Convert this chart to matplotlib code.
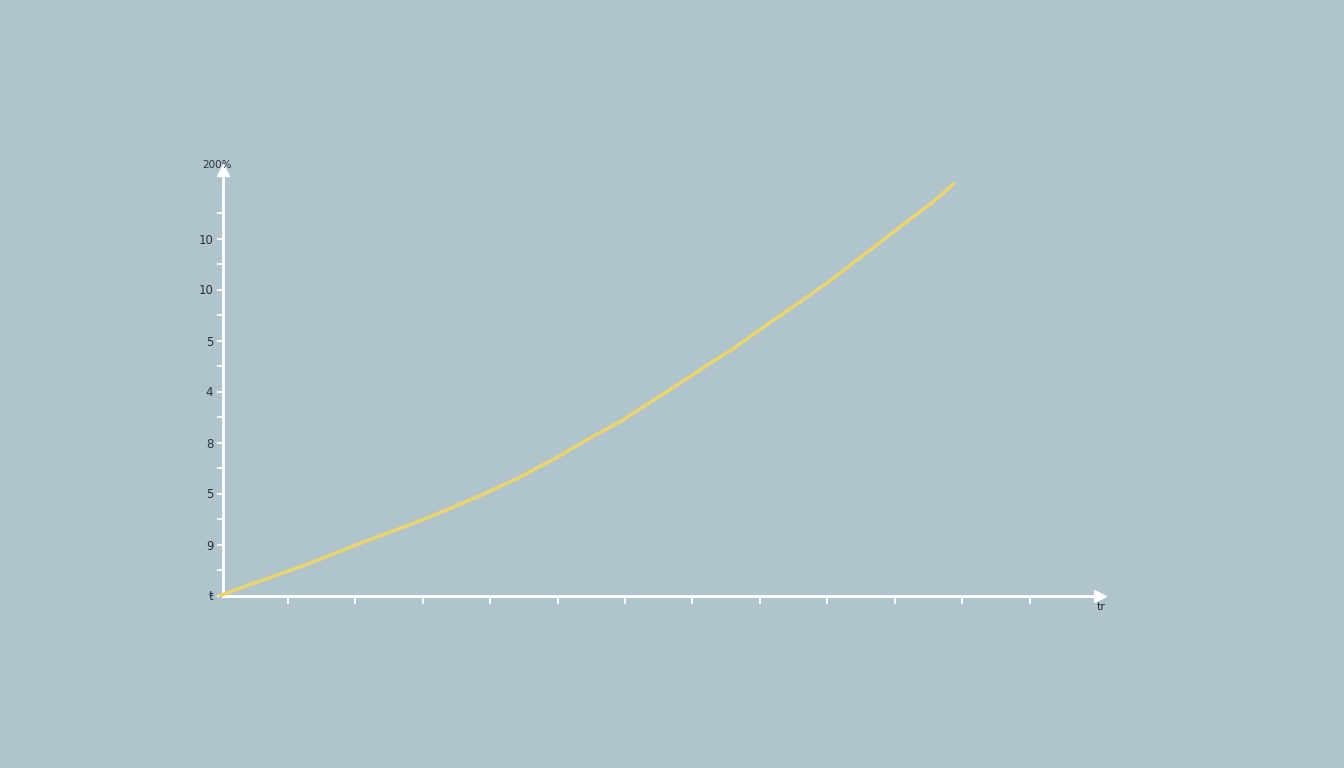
import numpy as np
import matplotlib
matplotlib.use("Agg")
import matplotlib.pyplot as plt

# values
x_vals = [0, 0.49, 0.98, 1.48, 1.97, 2.47, 2.96, 3.45, 3.95, 4.44, 4.94, 5.43, 5.97,
          6.12, 6.62, 7.11, 7.61, 8.10, 8.60, 9.09, 9.58, 10.08, 10.57, 10.87]
y_vals = [0, 0.48, 0.93, 1.42, 1.94, 2.44, 2.93, 3.46, 4.03, 4.64, 5.34, 6.10, 6.88,
          7.15, 7.99, 8.84, 9.69, 10.61, 11.52, 12.44, 13.44, 14.46, 15.44, 16.14]
x_ticks = list(range(1, 13))
y_ticks = list(range(0, 16))
y_label_pos = [0, 2, 4, 6, 8, 10, 12, 14]
y_labels = ["ŧ", "9", "5", "8", "4", "5", "10", "10"]
top_label = "200%"
x_end_label = "tr"

bg = "#B0C4CD"
line_color = "#E9D46E"
text_color = "#2B3138"

W, H = 1344, 768
fig = plt.figure(figsize=(W / 100, H / 100), dpi=100)
fig.patch.set_facecolor(bg)

# axes box in pixels
left, right, bottom, top = 223, 1100, 595.5, 170
ax = fig.add_axes([left / W, 1 - bottom / H, (right - left) / W, (bottom - top) / H])
ax.set_facecolor(bg)

x0 = (left - 220.3) / 67.45
ax.set_xlim(x0, x0 + (right - left) / 67.45)
ax.set_ylim(0, (bottom - top) / 25.5)

ax.plot(x_vals, y_vals, color=line_color, lw=2.6, solid_capstyle="round",
        solid_joinstyle="round", zorder=3, clip_on=False)

for s in ["top", "right"]:
    ax.spines[s].set_visible(False)
for s in ["left", "bottom"]:
    ax.spines[s].set_color("white")
    ax.spines[s].set_linewidth(2)

# arrow heads
ax.plot(1, 0, ">", color="white", ms=8, transform=ax.transAxes, clip_on=False)
ax.plot(0, 1, "^", color="white", ms=8, transform=ax.transAxes, clip_on=False)

ax.set_xticks(x_ticks)
ax.set_xticklabels([])
ax.tick_params(axis="x", direction="out", length=6, width=1.3, color="white")

ax.set_yticks(y_ticks)
ax.set_yticklabels([y_labels[y_label_pos.index(t)] if t in y_label_pos else "" for t in y_ticks])
ax.tick_params(axis="y", direction="out", length=4, width=1.2, color="white",
               labelsize=8.5, labelcolor=text_color, pad=3)

fig.text(217 / W, 1 - 165 / H, top_label, ha="center", va="center",
         fontsize=7.5, color=text_color)
fig.text(1101 / W, 1 - 607 / H, x_end_label, ha="center", va="center",
         fontsize=8, color=text_color)

fig.savefig("out.png", dpi=100, facecolor=bg)
